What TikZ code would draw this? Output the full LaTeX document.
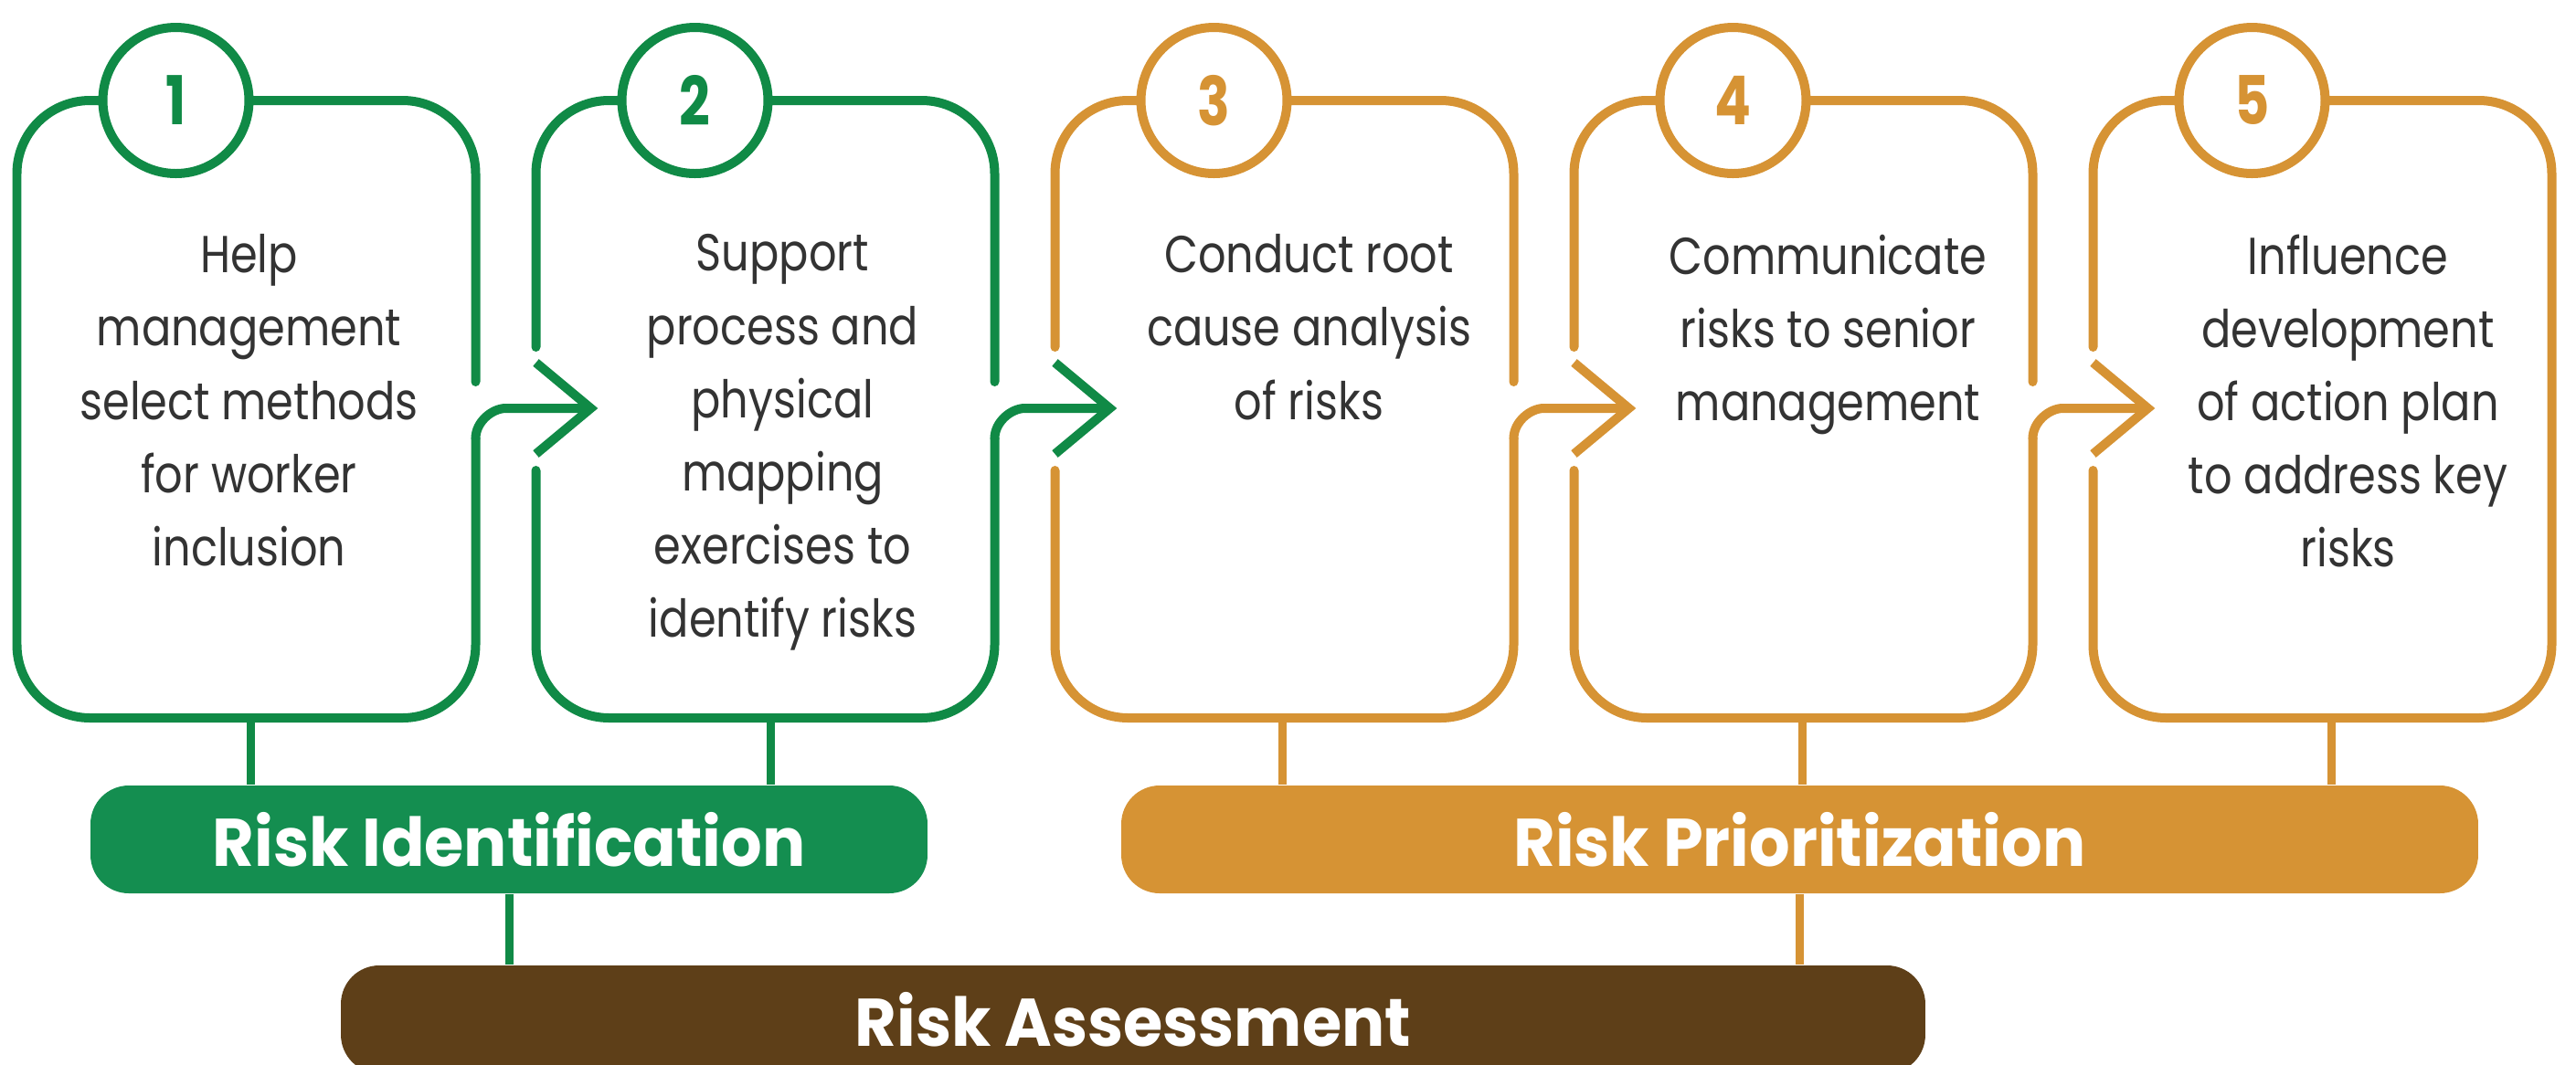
\documentclass[tikz,border=0pt]{standalone}
\usepackage{fontspec}
\setmainfont{Poppins}
\newfontfamily\boxfont{Poppins}[FakeStretch=0.84]
\newfontfamily\numfont{Poppins}[FakeStretch=0.8]
\newfontfamily\barfont{Poppins}[FakeStretch=0.95]
\definecolor{grnline}{HTML}{108A46}
\definecolor{grnbar}{HTML}{148E50}
\definecolor{orgline}{HTML}{D69334}
\definecolor{brnbar}{HTML}{5E3F18}
\definecolor{txtgray}{HTML}{333333}

\begin{document}
\begin{tikzpicture}[scale=0.1]
                    \tikzstyle{every node}+=[inner sep=0pt]
                    \tikzstyle{boxline}=[line width=1mm, line cap=round, line join=round]
                    \tikzstyle{chev}=[line width=1mm, line cap=butt, line join=miter]
                    \tikzstyle{stub}=[line width=0.9mm]
                    \tikzstyle{num}=[circle, draw, line width=1mm, fill=white, minimum size=16mm, font=\numfont\bfseries\fontsize{21}{21}\selectfont]
                    \tikzstyle{txt}=[anchor=north, align=center, text=txtgray, font=\boxfont\fontsize{16.2}{22.8}\selectfont]
                    \tikzstyle{bar}=[rectangle, rounded corners=4.2mm, minimum height=11.8mm, text=white, font=\barfont\bfseries\fontsize{21}{21}\selectfont]
                    \useasboundingbox (0,0) rectangle (281.9,-116.5);
                    % box 1
                    \draw [boxline, grnline, rounded corners=8mm] (52.05,-41.8) |- (1.85,-11) |- (52.05,-78.6) -- (52.05,-48.0);
                    \draw [boxline, grnline] (52.05,-48.0) .. controls (52.05,-46.18) and (53.87,-44.7) .. (55.35,-44.7) -- (64.45,-44.7);
                    \draw [chev, grnline] (58.65,-39.7) -- (64.65,-44.7) -- (58.65,-49.7);
                    % box 2
                    \draw [boxline, grnline, rounded corners=8mm] (108.85,-41.8) |- (58.65,-11) -- (58.65,-38.0);
                    \draw [boxline, grnline, rounded corners=8mm] (58.65,-51.5) |- (108.85,-78.6) -- (108.85,-48.0);
                    \draw [boxline, grnline] (108.85,-48.0) .. controls (108.85,-46.18) and (110.67,-44.7) .. (112.15,-44.7) -- (121.25,-44.7);
                    \draw [chev, grnline] (115.45,-39.7) -- (121.45,-44.7) -- (115.45,-49.7);
                    % box 3
                    \draw [boxline, orgline, rounded corners=8mm] (165.65,-41.8) |- (115.45,-11) -- (115.45,-38.0);
                    \draw [boxline, orgline, rounded corners=8mm] (115.45,-51.5) |- (165.65,-78.6) -- (165.65,-48.0);
                    \draw [boxline, orgline] (165.65,-48.0) .. controls (165.65,-46.18) and (167.47,-44.7) .. (168.95,-44.7) -- (178.05,-44.7);
                    \draw [chev, orgline] (172.25,-39.7) -- (178.25,-44.7) -- (172.25,-49.7);
                    % box 4
                    \draw [boxline, orgline, rounded corners=8mm] (222.45,-41.8) |- (172.25,-11) -- (172.25,-38.0);
                    \draw [boxline, orgline, rounded corners=8mm] (172.25,-51.5) |- (222.45,-78.6) -- (222.45,-48.0);
                    \draw [boxline, orgline] (222.45,-48.0) .. controls (222.45,-46.18) and (224.27,-44.7) .. (225.75,-44.7) -- (234.85,-44.7);
                    \draw [chev, orgline] (229.05,-39.7) -- (235.05,-44.7) -- (229.05,-49.7);
                    % box 5
                    \draw [boxline, orgline, rounded corners=8mm] (229.05,-38.0) |- (279.25,-11) |- (229.05,-78.6) -- (229.05,-51.5);
                    % step numbers
                    \node [num, draw=grnline, text=grnline] (n1) at (19.25,-11) {1};
                    \node [num, draw=grnline, text=grnline] (n2) at (76.05,-11) {2};
                    \node [num, draw=orgline, text=orgline] (n3) at (132.85,-11) {3};
                    \node [num, draw=orgline, text=orgline] (n4) at (189.65,-11) {4};
                    \node [num, draw=orgline, text=orgline] (n5) at (246.45,-11) {5};
                    % step texts
                    \node [txt] (t1) at (27.25,-25.6) {Help\\management\\select methods\\for worker\\inclusion};
                    \node [txt] (t2) at (85.65,-25.6) {Support\\process and\\physical\\mapping\\exercises to\\identify risks};
                    \node [txt] (t3) at (143.25,-25.6) {Conduct root\\cause analysis\\of risks};
                    \node [txt] (t4) at (200.05,-25.6) {Communicate\\risks to senior\\management};
                    \node [txt] (t5) at (256.95,-25.6) {Influence\\development\\of action plan\\to address key\\risks};
                    % phase bars
                    \node [bar, fill=grnbar, minimum width=91.6mm] (ident) at (55.7,-91.9) {Risk Identification};
                    \node [bar, fill=orgline, minimum width=148.5mm] (prior) at (196.95,-91.9) {Risk Prioritization};
                    \node [bar, fill=brnbar, minimum width=173.4mm] (assess) at (124.0,-111.6) {Risk Assessment};
                    \coordinate (s1) at (27.4,-78.6);
                    \coordinate (s2) at (84.3,-78.6);
                    \coordinate (s3) at (140.3,-78.6);
                    \coordinate (s4) at (197.2,-78.6);
                    \coordinate (s5) at (255.1,-78.6);
                    \draw [stub, grnline] (s1) -- (s1 |- ident.north);
                    \draw [stub, grnline] (s2) -- (s2 |- ident.north);
                    \draw [stub, orgline] (s3) -- (s3 |- prior.north);
                    \draw [stub, orgline] (s4) -- (s4 |- prior.north);
                    \draw [stub, orgline] (s5) -- (s5 |- prior.north);
                    \draw [stub, grnline] (ident.south) -- (ident.south |- assess.north);
                    \draw [stub, orgline] (prior.south) -- (prior.south |- assess.north);
                \end{tikzpicture}
\end{document}
